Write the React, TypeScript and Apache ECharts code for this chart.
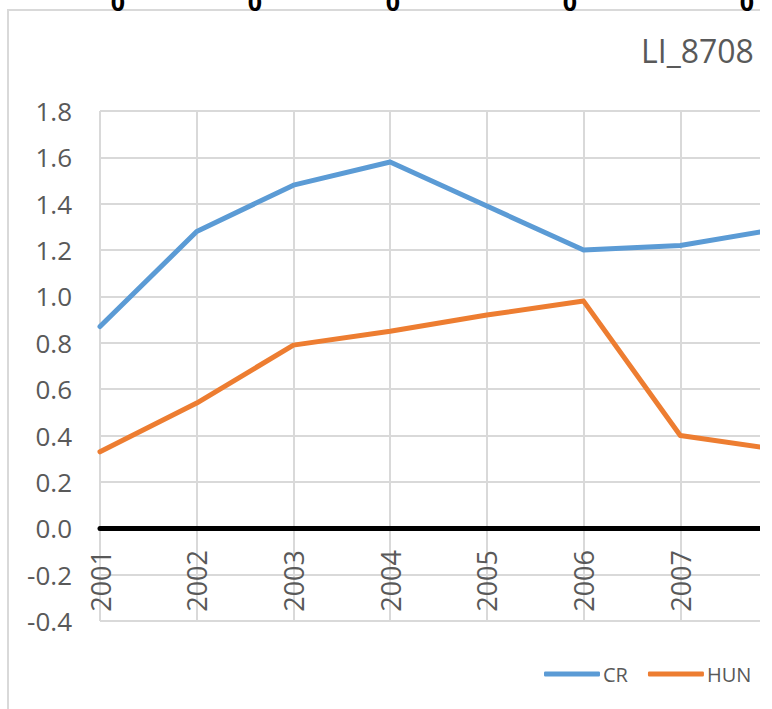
import React, { useEffect, useRef } from "react";
import * as echarts from "echarts";

const years = ["2001", "2002", "2003", "2004", "2005", "2006", "2007", "2008"];
const crValues = [0.87, 1.28, 1.48, 1.58, 1.39, 1.2, 1.22, 1.29];
const hunValues = [0.33, 0.54, 0.79, 0.85, 0.92, 0.98, 0.4, 0.34];
const seriesNames = ["CR", "HUN"];
const titleText = "LI_8708";
const topLabels = ["0", "0", "0", "0", "0"];
const topLabelX = [118, 255, 393, 570, 747];

const FONT = "'Open Sans', 'Noto Sans', sans-serif";
const GREY_TEXT = "#595959";
const GRID = "#d9d9d9";

export default function App() {
  const ref = useRef<HTMLDivElement>(null);

  useEffect(() => {
    if (!ref.current) return;
    const chart = echarts.init(ref.current, null, { renderer: "svg" });
    const option: any = {
      animation: false,
      backgroundColor: "#ffffff",
      textStyle: { fontFamily: FONT },
      title: {
        text: titleText,
        left: 641,
        top: 34,
        padding: 0,
        textStyle: { fontFamily: FONT, fontSize: 32, fontWeight: "normal", color: GREY_TEXT },
      },
      legend: {
        data: seriesNames,
        left: 544,
        top: 664,
        padding: 0,
        itemWidth: 56,
        itemHeight: 5,
        itemGap: 20,
        icon: "roundRect",
        textStyle: { fontFamily: FONT, fontSize: 20, color: GREY_TEXT, padding: [0, 0, 0, -2] },
      },
      grid: { left: 100, top: 111, width: 677, height: 510, containLabel: false },
      xAxis: {
        type: "category",
        data: years,
        boundaryGap: false,
        axisLine: { show: true, onZero: true, lineStyle: { color: "#000000", width: 5 } },
        axisTick: { show: false },
        axisLabel: {
          interval: 0,
          rotate: 90,
          margin: -71,
          fontFamily: FONT,
          fontSize: 27,
          color: GREY_TEXT,
        },
        splitLine: { show: true, lineStyle: { color: GRID, width: 2 } },
      },
      yAxis: {
        type: "value",
        min: -0.4,
        max: 1.8,
        interval: 0.2,
        axisLine: { show: false },
        axisTick: { show: false },
        axisLabel: {
          margin: 28,
          fontFamily: FONT,
          fontSize: 26,
          color: GREY_TEXT,
          formatter: (v: number) => v.toFixed(1),
        },
        splitLine: { show: true, lineStyle: { color: GRID, width: 2 } },
      },
      series: [
        {
          name: seriesNames[0],
          type: "line",
          data: crValues,
          symbol: "none",
          color: "#5B9BD5",
          lineStyle: { width: 5, color: "#5B9BD5", cap: "round", join: "round" },
        },
        {
          name: seriesNames[1],
          type: "line",
          data: hunValues,
          symbol: "none",
          color: "#ED7D31",
          lineStyle: { width: 5, color: "#ED7D31", cap: "round", join: "round" },
        },
      ],
      graphic: [
        {
          type: "rect",
          silent: true,
          shape: { x: 8, y: 10, width: 1000, height: 900 },
          style: { fill: "none", stroke: GRID, lineWidth: 2 },
          z: -10,
        },
        ...topLabels.map((t, i) => ({
          type: "text",
          silent: true,
          x: topLabelX[i],
          y: 1,
          style: {
            text: t,
            fontFamily: FONT,
            fontSize: 25,
            fontWeight: "bold",
            fill: "#000000",
            align: "center",
            verticalAlign: "middle",
          },
        })),
      ],
    };
    chart.setOption(option);
    return () => chart.dispose();
  }, []);

  return (
    <div
      style={{
        position: "fixed",
        left: 0,
        top: 0,
        width: 760,
        height: 709,
        overflow: "hidden",
        background: "#fff",
      }}
    >
      <div ref={ref} style={{ width: 900, height: 709 }} />
    </div>
  );
}
